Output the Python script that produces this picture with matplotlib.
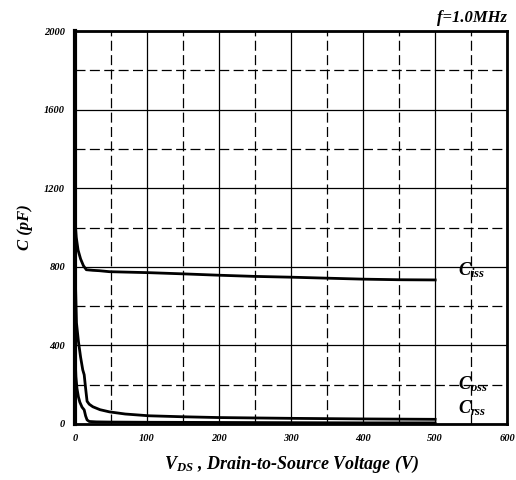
import matplotlib
matplotlib.use('Agg')
import matplotlib.pyplot as plt
from matplotlib.ticker import MultipleLocator

plt.rcParams['font.family'] = 'Liberation Serif'
plt.rcParams['mathtext.fontset'] = 'custom'
plt.rcParams['mathtext.it'] = 'Liberation Serif:bold:italic'
plt.rcParams['mathtext.rm'] = 'Liberation Serif:bold:italic'

v_iss = [0, 1, 2, 4.5, 8, 12, 16, 25, 34, 48, 70, 103, 150, 200, 250, 300, 350, 400, 450, 500]
c_iss = [1075, 1000, 950, 885, 840, 805, 785, 782, 780, 775, 773, 770, 764, 757, 751, 747, 742, 737, 734, 733]

v_oss = [0, 1, 2.3, 5, 8, 11, 13, 15, 17, 20, 25, 35, 48, 70, 103, 150, 200, 300, 400, 500]
c_oss = [950, 700, 514, 420, 340, 275, 250, 180, 115, 100, 87, 72, 61, 50, 41, 36, 32, 28, 25, 23]

v_rss = [0, 0.5, 1.5, 3, 5, 7, 10, 13, 15, 17, 20, 30, 50, 100, 200, 300, 400, 500]
c_rss = [420, 330, 240, 180, 137, 110, 85, 71, 40, 20, 12, 10, 9, 8, 7, 6, 5, 5]

fig = plt.figure(figsize=(5.16, 4.8), dpi=100)
ax = fig.add_axes([0.145, 0.117, 0.838, 0.818])

ax.plot(v_iss, c_iss, color='black', lw=2)
ax.plot(v_oss, c_oss, color='black', lw=2)
ax.plot(v_rss, c_rss, color='black', lw=2)

ax.set_xlim(0, 600)
ax.set_ylim(0, 2000)
ax.xaxis.set_major_locator(MultipleLocator(100))
ax.yaxis.set_major_locator(MultipleLocator(400))
ax.xaxis.set_minor_locator(MultipleLocator(50))
ax.yaxis.set_minor_locator(MultipleLocator(200))
ax.grid(which='major', color='black', lw=0.9)
ax.grid(which='minor', color='black', lw=0.9, linestyle=(0, (8, 3.5)))
ax.set_axisbelow(True)
ax.tick_params(which='both', length=0, pad=7)
for lab in ax.get_xticklabels() + ax.get_yticklabels():
    lab.set_fontsize(7.5)
    lab.set_fontweight('bold')
    lab.set_fontstyle('italic')
for s in ax.spines.values():
    s.set_linewidth(2)
ax.spines['left'].set_linewidth(3)

ax.set_xlabel(r'$V_{DS}$ , Drain-to-Source Voltage (V)', fontsize=13,
              fontweight='bold', fontstyle='italic', labelpad=8)
ax.set_ylabel('C (pF)', fontsize=12, fontweight='bold', fontstyle='italic', labelpad=8)

ax.text(1.0, 1.012, 'f=1.0MHz', transform=ax.transAxes, ha='right', va='bottom',
        fontsize=12, fontweight='bold', fontstyle='italic')
ax.text(532, 785, r'$C_{iss}$', fontsize=13, va='center')
ax.text(532, 200, r'$C_{oss}$', fontsize=13, va='center')
ax.text(532, 78, r'$C_{rss}$', fontsize=13, va='center')

fig.savefig('out.png', dpi=100)
